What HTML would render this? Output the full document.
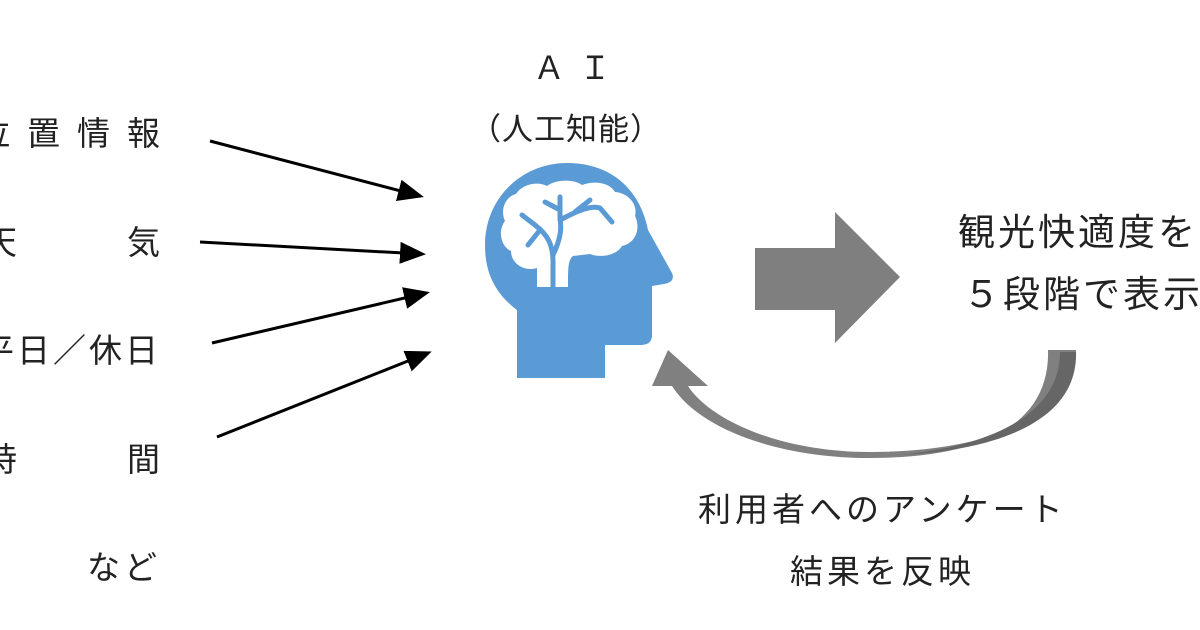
<!DOCTYPE html>
<html><head><meta charset="utf-8"><style>
body{margin:0;width:1200px;height:630px;overflow:hidden;background:#fff;position:relative;font-family:"Liberation Sans","Noto Sans CJK JP",sans-serif;color:#222}
.t{position:absolute;white-space:nowrap;line-height:1;font-size:33px;letter-spacing:4px}
.r{position:absolute;white-space:nowrap;line-height:1;font-size:33px;right:1036px;text-align:right;letter-spacing:4px}
</style></head><body>
<svg width="1200" height="630" style="position:absolute;left:0;top:0">
<defs>
<marker id="b" markerWidth="26" markerHeight="22" refX="22" refY="11" orient="auto" markerUnits="userSpaceOnUse"><path d="M0,0 L26,11 L0,22z" fill="#000"/></marker></defs>
<g stroke="#000" stroke-width="3">
<line x1="210" y1="141" x2="420" y2="196" marker-end="url(#b)"/>
<line x1="200" y1="242" x2="422" y2="254" marker-end="url(#b)"/>
<line x1="212" y1="343" x2="426" y2="293" marker-end="url(#b)"/>
<line x1="217" y1="437" x2="428" y2="353" marker-end="url(#b)"/>
</g>
<path d="M517,378 L517,310 C490,290 485,265 485,245 C485,198 522,163 567,163 C612,163 640,190 648,230 L672,273 C675,280 670,283 664,284 L652,286 L652,335 C652,342 648,345 640,345 L605,345 L605,378 Z" fill="#5b9bd5"/>
<path d="M516,194 C522,184 538,181 547,186 C556,179 574,179 582,185 C595,180 610,183 615,192 C628,193 638,204 635,216 C641,228 636,243 622,246 C616,256 600,258 590,254 L573,256 C568,260 568,268 568,287 L537,287 L537,268 C525,272 511,264 511,251 C500,246 498,230 505,221 C500,210 505,197 516,194 Z" fill="#fff"/>
<g stroke="#5b9bd5" stroke-width="5" fill="none" stroke-linecap="round">
<path d="M553,287 L553,262 C553,245 548,235 535,225 L522,215"/>
<path d="M553,255 C560,240 562,230 560,218 L560,197"/>
<path d="M560,220 C575,212 590,205 600,208 L612,222"/>
<path d="M575,212 L590,200"/>
<path d="M540,230 L528,245"/>
<path d="M560,210 L545,202"/>
</g>
<path d="M755,248 L835,248 L835,212 L900,277 L835,343 L835,310 L755,310 Z" fill="#7f7f7f"/>
<path d="M1048,350 L1076,350 C1078,420 980,452 870,452 C780,452 710,420 688,386 L708,386 L668,350 L652,386 L672,386 C700,430 780,458 870,458 C990,458 1050,420 1048,350 Z" fill="#808080"/>
<path d="M1060,352 L1076,352 C1078,420 1000,450 900,455 C1000,445 1060,410 1060,352Z" fill="#666"/>
</svg>
<div class="t" style="left:533px;top:52px;font-size:32px;letter-spacing:14px">ＡＩ</div>
<div class="t" style="left:470px;top:114px;font-size:31px;letter-spacing:1px">（人工知能）</div>
<div class="r" style="top:117px;letter-spacing:17px;right:1023px">位置情報</div>
<div class="t" style="left:-16px;top:226px">天</div>
<div class="t" style="left:127px;top:226px">気</div>
<div class="r" style="top:334px;letter-spacing:3px;right:1039px">平日／休日</div>
<div class="t" style="left:-16px;top:443px">時</div>
<div class="t" style="left:127px;top:443px">間</div>
<div class="t" style="left:87px;top:551px">など</div>
<div class="t" style="left:958px;top:214px;font-size:37px;letter-spacing:3px">観光快適度を</div>
<div class="t" style="left:963px;top:276px;font-size:37px;letter-spacing:3px">５段階で表示</div>
<div class="t" style="left:698px;top:493px">利用者へのアンケート</div>
<div class="t" style="left:790px;top:555px">結果を反映</div>
</body></html>
